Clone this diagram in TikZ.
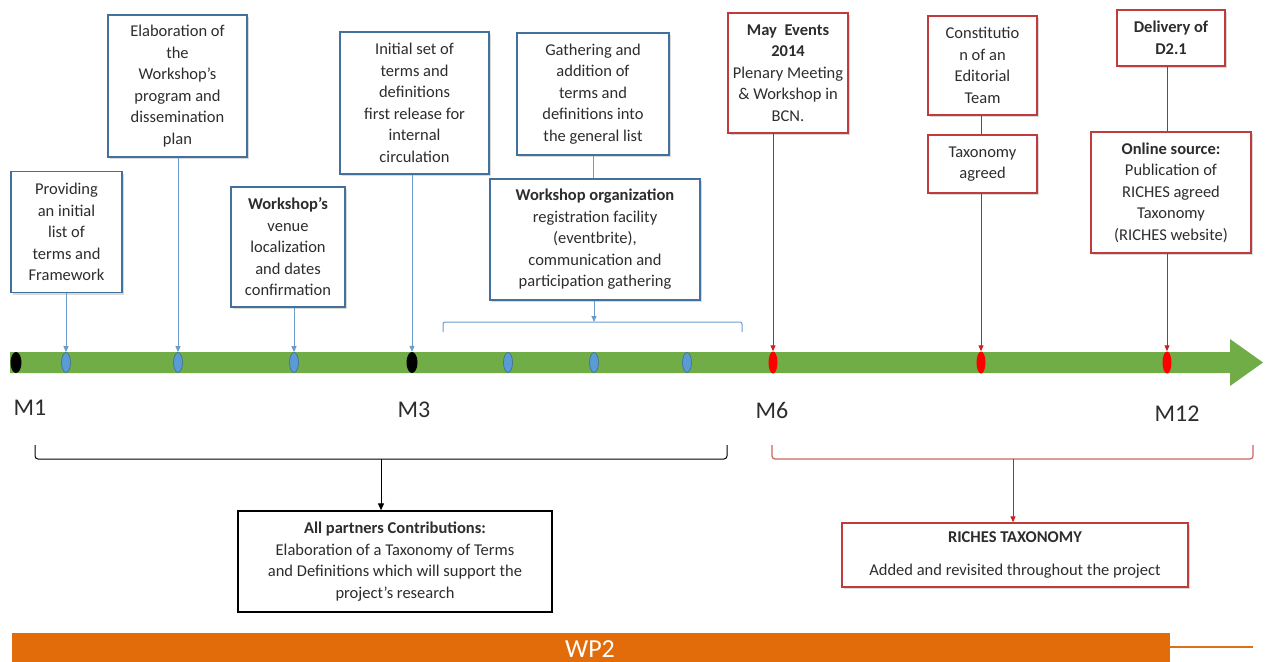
\documentclass[tikz,border=0pt]{standalone}
\usepackage{fontspec}
\setmainfont{Carlito}
\usetikzlibrary{arrows.meta,shapes.geometric,shadows}
\definecolor{boxblue}{RGB}{65,113,156}
\definecolor{lineblue}{RGB}{106,156,204}
\definecolor{ovalblue}{RGB}{91,155,213}
\definecolor{boxred}{RGB}{192,60,60}
\definecolor{linered}{RGB}{204,32,32}
\definecolor{bargreen}{RGB}{112,173,71}
\definecolor{wporange}{RGB}{227,108,10}
\definecolor{txtgray}{RGB}{45,45,45}
\begin{document}
\begin{tikzpicture}[x=1pt, y=-1pt,
        every node/.style={font=\fontsize{16.5}{21.5}\selectfont, text=txtgray},
        taskbox/.style={draw, line width=1.3pt, fill=white, align=center, inner sep=0pt,
            drop shadow={shadow xshift=2pt, shadow yshift=-2pt, opacity=0.3}},
        bluebox/.style={taskbox, draw=boxblue},
        redbox/.style={taskbox, draw=boxred},
        blackbox/.style={draw=black, line width=1.3pt, fill=white, align=center, inner sep=0pt},
        blueoval/.style={ellipse, draw=boxblue, fill=ovalblue, line width=0.7pt,
            minimum width=9, minimum height=20, inner sep=0pt},
        redoval/.style={ellipse, fill=red, minimum width=9, minimum height=22, inner sep=0pt},
        blackoval/.style={ellipse, fill=black, minimum width=11, minimum height=21, inner sep=0pt},
        blueline/.style={draw=lineblue, line width=1pt, -{Triangle[length=6pt,width=5pt]}},
        redline/.style={draw=linered, line width=1pt, -{Triangle[length=6pt,width=5pt]}},
        mlabel/.style={font=\fontsize{24}{24}\selectfont}]
        \useasboundingbox (0,0) rectangle (1265,661);
        \def \tly {362.5}   % height of the time line
        % time line arrow
        \fill[bargreen] (10,352) -- (1230,352) -- (1230,339) -- (1263,\tly) --
            (1230,386) -- (1230,373) -- (10,373) -- cycle;
        % milestones on the time line
        \node[blackoval] (m1) at (16,\tly) {};
        \node[blueoval] (e1) at (66,\tly) {};
        \node[blueoval] (e2) at (178,\tly) {};
        \node[blueoval] (e3) at (294,\tly) {};
        \node[blackoval] (m3) at (412,\tly) {};
        \node[blueoval] (e4) at (508,\tly) {};
        \node[blueoval] (e5) at (594,\tly) {};
        \node[blueoval] (e6) at (687,\tly) {};
        \node[redoval] (m6) at (773,\tly) {};
        \node[redoval] (e7) at (981,\tly) {};
        \node[redoval] (m12) at (1167,\tly) {};
        % month labels
        \node[mlabel] (l1) at (30,408) {M1};
        \node[mlabel] (l3) at (414,410) {M3};
        \node[mlabel] (l6) at (772,410) {M6};
        \node[mlabel] (l12) at (1177,414) {M12};
        % first months tasks
        \node[bluebox, minimum width=111, minimum height=121] (b1) at (66.5,232)
            {Providing\\an initial\\list of\\terms and\\Framework};
        \node[bluebox, minimum width=139, minimum height=142] (b2) at (177.5,86)
            {Elaboration of\\the\\Workshop's\\program and\\dissemination\\plan};
        \node[bluebox, minimum width=114, minimum height=120] (b3) at (288,247)
            {\textbf{Workshop's}\\venue\\localization\\and dates\\confirmation};
        \node[bluebox, minimum width=149, minimum height=142] (b4) at (414.5,103)
            {Initial set of\\terms and\\definitions\\first release for\\internal\\circulation};
        \node[bluebox, minimum width=152, minimum height=122] (b5) at (593,94)
            {Gathering and\\addition of\\terms and\\definitions into\\the general list};
        \node[bluebox, minimum width=210, minimum height=121] (b6) at (595,239.5)
            {\textbf{Workshop organization}\\registration facility\\(eventbrite),\\communication and\\participation gathering};
        % second half tasks
        \node[redbox, minimum width=120, minimum height=120] (b7) at (788,73)
            {\textbf{May~ Events}\\\textbf{2014}\\Plenary Meeting\\\& Workshop in\\BCN.};
        \node[redbox, minimum width=109, minimum height=99] (b8) at (982.5,65.5)
            {Constitutio\\n of an\\Editorial\\Team};
        \node[redbox, minimum width=109, minimum height=58] (b9) at (982.5,164)
            {Taxonomy\\agreed};
        \node[redbox, minimum width=108, minimum height=56] (b10) at (1171,38)
            {\textbf{Delivery of}\\\textbf{D2.1}};
        \node[redbox, minimum width=160, minimum height=121] (b11) at (1171,192.5)
            {\textbf{Online source:}\\Publication of\\RICHES agreed\\Taxonomy\\(RICHES website)};
        % connectors to the time line
        \draw[blueline] (e1 |- b1.south) -- (e1);
        \draw[blueline] (e2 |- b2.south) -- (e2);
        \draw[blueline] (e3 |- b3.south) -- (e3);
        \draw[blueline] (m3 |- b4.south) -- (m3);
        \draw[lineblue, line width=1pt] (b5.south) -- (b5.south |- b6.north);
        \draw[redline] (m6 |- b7.south) -- (m6);
        \draw[linered, line width=1pt] (b8.south -| e7) -- (b9.north -| e7);
        \draw[redline] (e7 |- b9.south) -- (e7);
        \draw[linered, line width=1pt] (b10.south -| m12) -- (b11.north -| m12);
        \draw[redline] (m12 |- b11.south) -- (m12);
        % bracket over the workshop period
        \coordinate (bluebr) at (594,322);
        \draw[lineblue, line width=1pt, rounded corners=2] (443,332) -- (443,322) -- (742,322) -- (742,332);
        \draw[blueline] (bluebr |- b6.south) -- (bluebr);
        % brackets under the time line
        \coordinate (blackbr) at (381,459);
        \coordinate (redbr) at (1013,459);
        \draw[black, line width=1pt, rounded corners=3] (35,445) -- (35,459) -- (727,459) -- (727,445);
        \draw[boxred!80, line width=1.2pt, rounded corners=3] (772,445) -- (772,459) -- (1253,459) -- (1253,445);
        % outcome boxes
        \node[blackbox, minimum width=314, minimum height=101] (b12) at (395,561.5)
            {\textbf{All partners Contributions:}\\Elaboration of a Taxonomy of Terms\\and Definitions which will support the\\project's research};
        \node[redbox, minimum width=346, minimum height=64] (b13) at (1015,555)
            {\textbf{RICHES TAXONOMY}\\[12pt]Added and revisited throughout the project};
        \draw[black, line width=1pt, -{Triangle[length=7pt,width=6pt]}] (blackbr) -- (blackbr |- b12.north);
        \draw[redline] (redbr) -- (redbr |- b13.north);
        % work package bar
        \fill[wporange] (12,633) rectangle (1170,670);
        \draw[wporange!75!brown, line width=2.5pt] (1170,647) -- (1253,647);
        \node[text=white, font=\fontsize{26}{26}\selectfont, inner sep=0pt, anchor=base] (wp) at (590,657) {WP2};
\end{tikzpicture}
\end{document}
